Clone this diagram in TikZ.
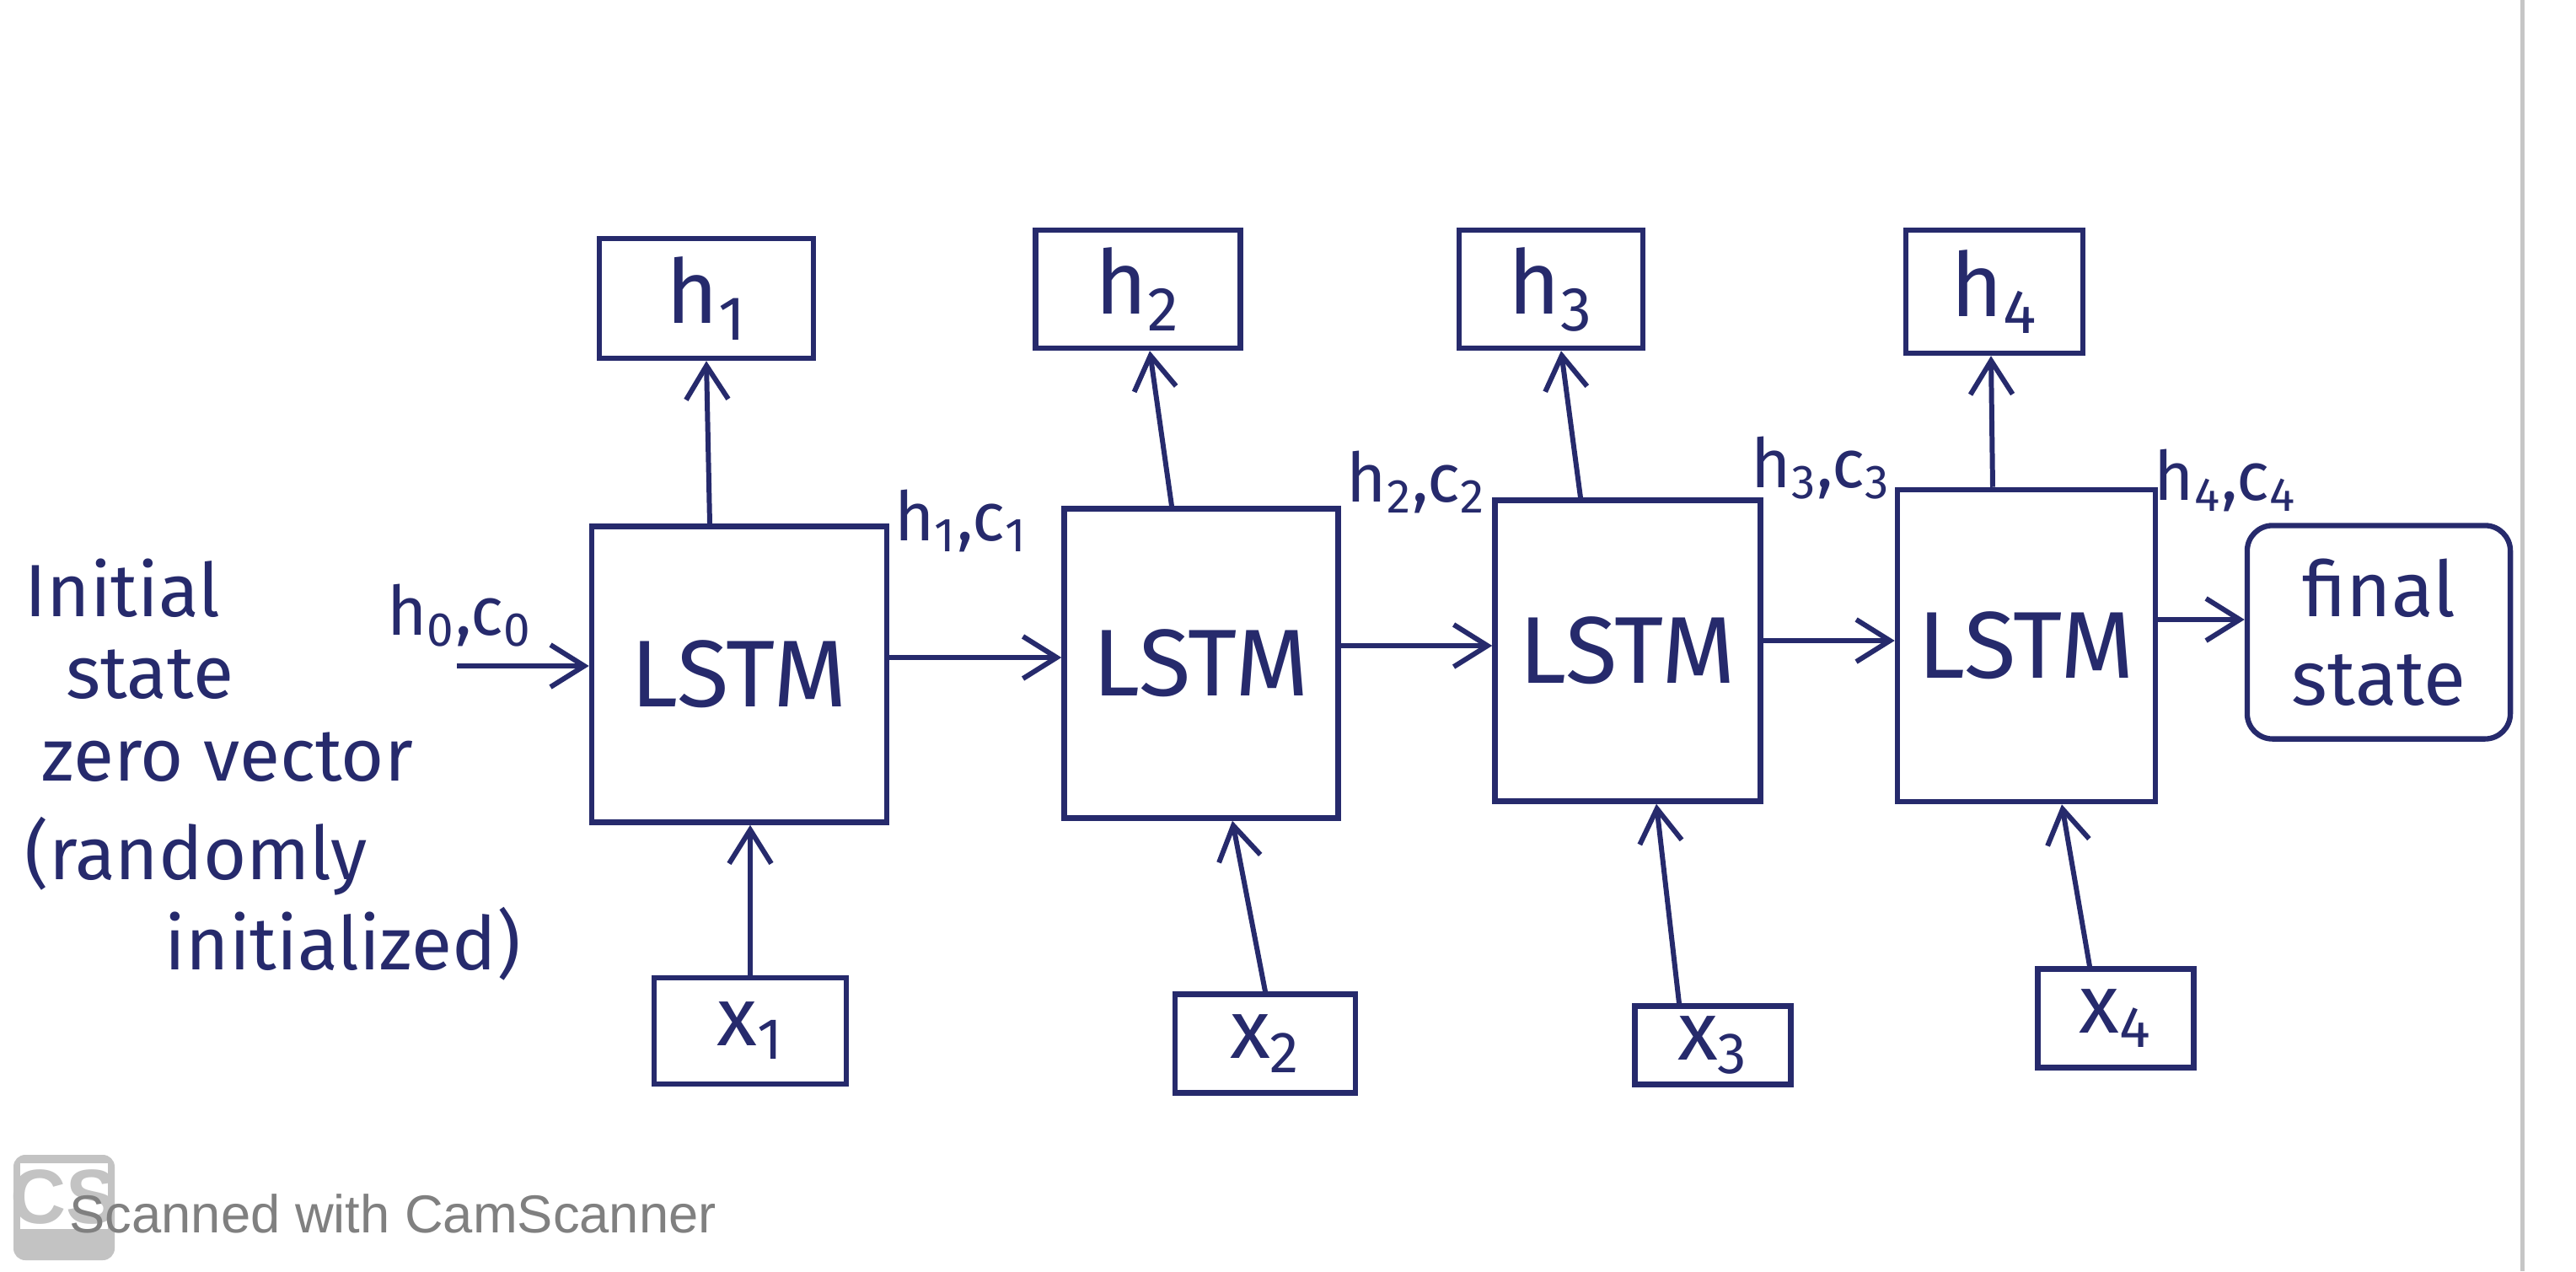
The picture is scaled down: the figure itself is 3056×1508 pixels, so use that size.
\documentclass[tikz,border=0pt]{standalone}
\usepackage{fontspec}
\setmainfont{Fira Sans}
\newfontfamily\wmfont{Liberation Sans}
\usetikzlibrary{arrows.meta,calc}
\definecolor{ink}{RGB}{38,42,108}
\definecolor{wmgray}{RGB}{128,128,128}
\definecolor{logogray}{RGB}{195,195,195}
\begin{document}
\begin{tikzpicture}[x=0.01cm,y=-0.01cm,
  every node/.style={text=ink},
  box/.style={draw=ink,line width=1.8pt,rectangle,inner sep=0pt},
  lstm/.style={box,font=\fontsize{32}{38}\selectfont},
  outbox/.style={box,font=\fontsize{30}{36}\selectfont},
  inbox/.style={box,font=\fontsize{28}{34}\selectfont},
  lab/.style={font=\fontsize{25}{30}\selectfont,inner sep=0pt},
  slab/.style={font=\fontsize{23}{28}\selectfont,inner sep=0pt},
  conn/.style={draw=ink,line width=1.7pt,-{Straight Barb[length=0.4cm,width=0.5cm,line width=1.7pt]}}]
\useasboundingbox (0,0) rectangle (3056,1508);
\fill[white] (0,0) rectangle (3056,1508);
% page edge
\draw[gray!45,line width=0.05cm] (2992,0) -- (2992,1508);

% LSTM cells
\node[lstm,minimum width=3.50cm,minimum height=3.51cm] (L1) at (877,800) {LSTM};
\node[lstm,minimum width=3.25cm,minimum height=3.67cm] (L2) at (1425,787) {LSTM};
\node[lstm,minimum width=3.15cm,minimum height=3.57cm] (L3) at (1931,772) {LSTM};
\node[lstm,minimum width=3.06cm,minimum height=3.70cm] (L4) at (2404,766) {LSTM};

% outputs
\node[outbox,minimum width=2.54cm,minimum height=1.42cm] (h1) at (838,354) {h\textsubscript{1}};
\node[outbox,minimum width=2.43cm,minimum height=1.40cm] (h2) at (1350,343) {h\textsubscript{2}};
\node[outbox,minimum width=2.18cm,minimum height=1.40cm] (h3) at (1840,343) {h\textsubscript{3}};
\node[outbox,minimum width=2.10cm,minimum height=1.46cm] (h4) at (2366,346) {h\textsubscript{4}};

% inputs
\node[inbox,minimum width=2.28cm,minimum height=1.26cm] (x1) at (890,1223) {x\textsubscript{1}};
\node[inbox,minimum width=2.14cm,minimum height=1.17cm] (x2) at (1501,1238) {x\textsubscript{2}};
\node[inbox,minimum width=1.85cm,minimum height=0.93cm] (x3) at (2032,1240) {x\textsubscript{3}};
\node[inbox,minimum width=1.85cm,minimum height=1.17cm] (x4) at (2510,1208) {x\textsubscript{4}};

% final state
\node[box,rounded corners=0.3cm,minimum width=3.12cm,minimum height=2.53cm,align=center,
      font=\fontsize{26}{30}\selectfont] (fin) at (2822,750) {final\\state};

% initial state text
\node[lab,anchor=base west] (t1) at (29,731) {Initial};
\node[lab,anchor=base west] (t2) at (78,828) {state};
\node[lab,anchor=base west] (t3) at (49,926) {zero vector};
\node[lab,anchor=base west] (t4) at (29,1043) {(randomly};
\node[lab,anchor=base west] (t5) at (195,1150) {initialized)};

% state labels
\node[slab] (s0) at (545,730) {h\textsubscript{0},c\textsubscript{0}};
\node[slab] (s1) at (1140,618) {h\textsubscript{1},c\textsubscript{1}};
\node[slab] (s2) at (1680,572) {h\textsubscript{2},c\textsubscript{2}};
\node[slab] (s3) at (2160,555) {h\textsubscript{3},c\textsubscript{3}};
\node[slab] (s4) at (2640,570) {h\textsubscript{4},c\textsubscript{4}};

% horizontal connectors
\coordinate (a0) at (542,790);
\draw[conn] (a0) -- (a0 -| L1.west);
\coordinate (a1) at ($(L1.east)+(0,-20)$);
\draw[conn] (a1) -- (a1 -| L2.west);
\coordinate (a2) at ($(L2.east)+(0,-21)$);
\draw[conn] (a2) -- (a2 -| L3.west);
\coordinate (a3) at ($(L3.east)+(0,-12)$);
\draw[conn] (a3) -- (a3 -| L4.west);
\coordinate (a4) at ($(L4.east)+(0,-31)$);
\draw[conn] (a4) -- (a4 -| fin.west);

% upward connectors
\draw[conn] ($(L1.north)+(-35,0)$) -- (h1.south);
\draw[conn] ($(L2.north)+(-35,0)$) -- ($(h2.south)+(14,0)$);
\draw[conn] ($(L3.north)+(-56,0)$) -- ($(h3.south)+(12,0)$);
\draw[conn] ($(L4.north)+(-40,0)$) -- ($(h4.south)+(-4,0)$);

% input connectors
\draw[conn] (x1.north) -- (x1.north |- L1.south);
\draw[conn] (x2.north) -- ($(L2.south)+(37,0)$);
\draw[conn] ($(x3.north)+(-40,0)$) -- ($(L3.south)+(34,0)$);
\draw[conn] ($(x4.north)+(-31,0)$) -- ($(L4.south)+(42,0)$);

% watermark
\fill[logogray,rounded corners=0.14cm] (16,1370) rectangle (136,1495);
\fill[white] (24,1380) rectangle (128,1458);
\node[font=\wmfont\bfseries\fontsize{26}{30}\selectfont,text=logogray,inner sep=0pt] (cs) at (76,1420) {CS};
\node[font=\wmfont\fontsize{18}{22}\selectfont,text=wmgray,anchor=base west,inner sep=0pt] (wm) at (82,1462) {Scanned with CamScanner};
\end{tikzpicture}
\end{document}
